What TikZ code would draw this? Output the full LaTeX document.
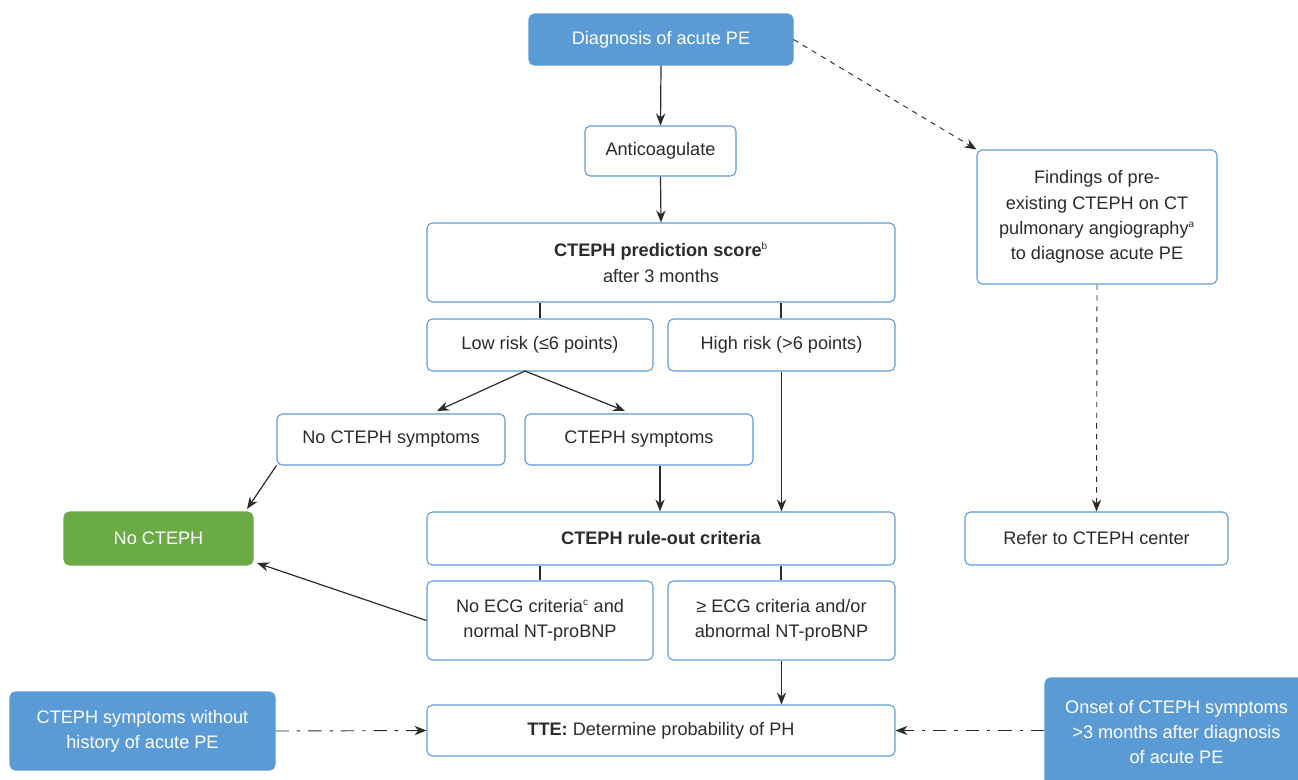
\documentclass[tikz,border=0pt]{standalone}
\usepackage{fontspec}
\setmainfont{Liberation Sans}
\usetikzlibrary{arrows.meta}
\definecolor{bblue}{HTML}{5B9BD5}
\definecolor{bgreen}{HTML}{6AAB46}
\definecolor{txt}{HTML}{2B2B2B}
\newcommand{\fnsup}[1]{\textsuperscript{\fontsize{7.5}{8}\selectfont #1}}
\begin{document}
\begin{tikzpicture}[x=0.75pt,y=-0.75pt,
  box/.style={draw=bblue,line width=0.8pt,rounded corners=4pt,fill=white,text=txt,align=center,font=\fontsize{13.6}{19}\selectfont,inner sep=0pt},
  fbox/.style={box,fill=bblue,draw=bblue,text=white},
  gbox/.style={box,fill=bgreen,draw=bgreen,text=white},
  arr/.style={-{Stealth[length=9pt,width=7pt]},line width=0.9pt,draw=txt},
  ln/.style={line width=0.8pt,draw=txt},
  dsh/.style={-{Stealth[length=9pt,width=7pt]},line width=0.7pt,draw=txt,dash pattern=on 4pt off 4pt},
  dd/.style={-{Stealth[length=9pt,width=7pt]},line width=0.7pt,draw=txt,dash pattern=on 10pt off 6pt on 2.5pt off 6pt}
]
\useasboundingbox (0,0) rectangle (1298,779);
\def\bx#1#2#3#4#5#6#7{\node[#2,minimum width={(#5-#3)*0.75pt},minimum height={(#6-#4)*0.75pt}] (#1) at ({(#3+#5)/2},{(#4+#6)/2}) {#7};}
\bx{diag}{fbox}{529}{14}{793}{65}{Diagnosis of acute PE}
\bx{anti}{box}{585}{126}{736}{176}{Anticoagulate}
\bx{pred}{box}{427}{223}{895}{302}{\textbf{CTEPH prediction score}\fnsup{b}\\after 3 months}
\bx{low}{box}{427}{319}{653}{371}{Low risk (≤6 points)}
\bx{high}{box}{668}{319}{895}{371}{High risk (>6 points)}
\bx{nosym}{box}{277}{414}{505}{465}{No CTEPH symptoms}
\bx{sym}{box}{525}{414}{753}{465}{CTEPH symptoms}
\bx{nocteph}{gbox}{64}{512}{253}{565}{No CTEPH}
\bx{rule}{box}{427}{512}{895}{565}{\textbf{CTEPH rule-out criteria}}
\bx{noecg}{box}{427}{581}{653}{660}{No ECG criteria\fnsup{c} and\\normal NT-proBNP}
\bx{ecg}{box}{668}{581}{895}{660}{≥ ECG criteria and/or\\abnormal NT-proBNP}
\bx{tte}{box}{427}{705}{895}{756}{\textbf{TTE:} Determine probability of PH}
\bx{wo}{fbox}{10}{692}{275}{770}{CTEPH symptoms without\\history of acute PE}
\bx{onset}{fbox}{1045}{678}{1308}{786}{Onset of CTEPH symptoms\\>3 months after diagnosis\\of acute PE}
\bx{find}{box}{977}{150}{1217}{284}{Findings of pre-\\existing CTEPH on CT\\pulmonary angiography\fnsup{a}\\to diagnose acute PE}
\bx{refer}{box}{965}{512}{1228}{565}{Refer to CTEPH center}

\draw[arr] (diag.south) -- (anti.north);
\draw[arr] (anti.south) -- (pred.north);
\draw[ln] (pred.south -| 540,0) -- (low.north -| 540,0);
\draw[ln] (pred.south -| 781,0) -- (high.north -| 781,0);
\coordinate (lowb) at (525,371);
\draw[arr] (lowb) -- (437,411);
\draw[arr] (lowb) -- (625,411);
\draw[arr] (high.south) -- (rule.north -| high.south);
\draw[arr] (sym.south -| 660,0) -- (rule.north -| 660,0);
\draw[arr] (nosym.south west) -- (247,509);
\draw[ln] (rule.south -| 540,0) -- (noecg.north -| 540,0);
\draw[ln] (rule.south -| 781,0) -- (ecg.north -| 781,0);
\draw[arr] (noecg.west) -- (257,563);
\draw[arr] (ecg.south) -- (tte.north -| ecg.south);
\draw[dsh] (diag.east) -- (find.north west);
\draw[dsh] (find.south) -- (refer.north);
\draw[dd] (wo.east) -- (tte.west);
\draw[dd] (onset.west |- tte.west) -- (tte.east);
\end{tikzpicture}
\end{document}
